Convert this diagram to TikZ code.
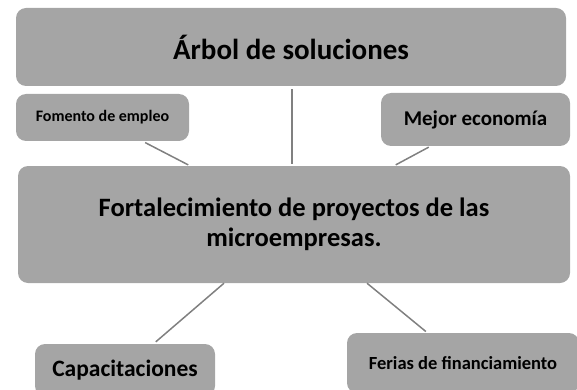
\documentclass[tikz,border=0pt]{standalone}
\usepackage{fontspec}
\setmainfont{Carlito}
\usepackage{tikz}
\usetikzlibrary{calc}
\definecolor{boxgray}{RGB}{165,165,165}
\definecolor{linkgray}{RGB}{128,128,128}

\begin{document}
\begin{tikzpicture}[x=1pt, y=-1pt,
    box/.style={fill=boxgray, rounded corners=10pt, inner sep=0pt, align=center, font=\bfseries},
    link/.style={draw=linkgray, line width=1.5pt}]
  \useasboundingbox (0,0) rectangle (577,390);

  % title and main problem
  \node[box, minimum width=550pt, minimum height=78pt, font=\bfseries\fontsize{29}{32}\selectfont]
    (arbol) at (291,47) {Árbol de soluciones};
  \node[box, minimum width=552pt, minimum height=117pt, font=\bfseries\fontsize{26.5}{30}\selectfont]
    (fort) at (294,224.5) {Fortalecimiento de proyectos de las\\microempresas.};

  % upper effects
  \node[box, minimum width=173pt, minimum height=47pt, font=\bfseries\fontsize{16}{18}\selectfont]
    (fomento) at (102.5,117.5) {Fomento de empleo};
  \node[box, minimum width=189pt, minimum height=53pt, font=\bfseries\fontsize{21}{24}\selectfont]
    (mejor) at (475.5,119.5) {Mejor economía};

  % lower means
  \node[box, minimum width=180pt, minimum height=52pt, font=\bfseries\fontsize{23.5}{26}\selectfont]
    (capac) at (125,370) {Capacitaciones};
  \node[box, minimum width=232pt, minimum height=60pt, font=\bfseries\fontsize{18.5}{21}\selectfont]
    (ferias) at (463,363) {Ferias de financiamiento};

  % connectors
  \draw[link, shorten <=3pt, shorten >=2pt] ([xshift=1pt]arbol.south) -- ([xshift=-2pt]fort.north);
  \draw[link, shorten <=3pt, shorten >=2pt] ([xshift=40pt]fomento.south) -- ([xshift=-104pt]fort.north);
  \draw[link, shorten <=2pt, shorten >=2pt] ([xshift=-45pt]mejor.south) -- ([xshift=100pt]fort.north);
  \draw[link, shorten >=3pt] ([xshift=-70pt]fort.south) -- ([xshift=28.5pt]capac.north);
  \draw[link, shorten >=2pt] ([xshift=73pt]fort.south) -- ([xshift=-35.6pt]ferias.north);
\end{tikzpicture}
\end{document}
